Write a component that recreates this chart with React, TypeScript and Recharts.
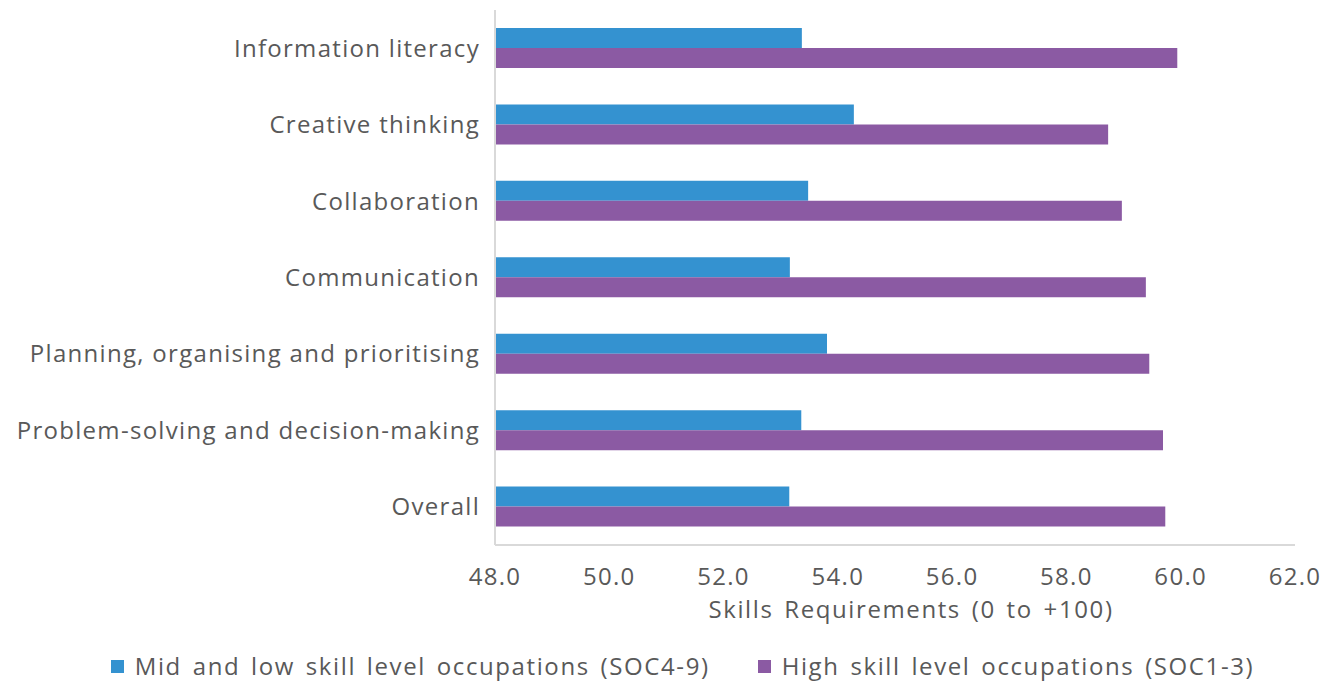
import { BarChart, Bar, XAxis, YAxis, Legend, Label } from 'recharts'

const categories = [
  'Information literacy',
  'Creative thinking',
  'Collaboration',
  'Communication',
  'Planning, organising and prioritising',
  'Problem-solving and decision-making',
  'Overall',
]
const midLow = [53.37, 54.28, 53.48, 53.16, 53.81, 53.36, 53.15]
const high = [59.94, 58.73, 58.97, 59.39, 59.45, 59.69, 59.73]
const xTicks = [48, 50, 52, 54, 56, 58, 60, 62]

const SERIES = [
  { key: 'midLow', name: 'Mid and low skill level occupations (SOC4-9)', color: '#3492d0' },
  { key: 'high', name: 'High skill level occupations (SOC1-3)', color: '#8b5aa3' },
]

const data = categories.map((c, i) => ({ name: c, midLow: midLow[i], high: high[i] }))

const TEXT = '#595959'
const FONT = '"Open Sans", "Noto Sans", sans-serif'
const textStyle = { fill: TEXT, fontSize: 24, fontFamily: FONT, letterSpacing: 1.3 }

function LegendContent() {
  return (
    <div
      style={{
        display: 'flex',
        justifyContent: 'center',
        alignItems: 'center',
        gap: 48,
        height: 34,
        fontFamily: FONT,
        fontSize: 24,
        letterSpacing: 1.6,
        wordSpacing: 3,
        lineHeight: '34px',
        color: TEXT,
        paddingLeft: 70,
        whiteSpace: 'nowrap',
      }}
    >
      {SERIES.map((s) => (
        <div key={s.key} style={{ display: 'flex', alignItems: 'center', gap: 11 }}>
          <span style={{ width: 13, height: 13, background: s.color, display: 'inline-block' }} />
          <span>{s.name}</span>
        </div>
      ))}
    </div>
  )
}

export default function App() {
  return (
    <div style={{ position: 'absolute', left: 0, top: 0, background: '#fff' }}>
      <BarChart
        width={1339}
        height={683}
        data={data}
        layout="vertical"
        margin={{ top: 10, right: 44, bottom: 0, left: 0 }}
        barGap={0}
      >
        <XAxis
          type="number"
          domain={[48, 62]}
          ticks={xTicks}
          tickFormatter={(v: number) => v.toFixed(1)}
          axisLine={{ stroke: '#d9d9d9', strokeWidth: 2 }}
          tickLine={false}
          tickMargin={17}
          height={104}
          tick={textStyle}
          allowDataOverflow
        >
          <Label
            value="Skills Requirements (0 to +100)"
            position="insideTop"
            offset={56}
            dx={16}
            style={{ ...textStyle, letterSpacing: 1.6, wordSpacing: 3 }}
          />
        </XAxis>
        <YAxis
          type="category"
          dataKey="name"
          width={495}
          axisLine={{ stroke: '#d9d9d9', strokeWidth: 2 }}
          tickLine={false}
          tickMargin={9}
          tick={textStyle}
          interval={0}
        />
        <Legend verticalAlign="bottom" height={34} content={<LegendContent />} />
        {SERIES.map((s) => (
          <Bar key={s.key} dataKey={s.key} name={s.name} fill={s.color} barSize={20} isAnimationActive={false} />
        ))}
      </BarChart>
    </div>
  )
}
